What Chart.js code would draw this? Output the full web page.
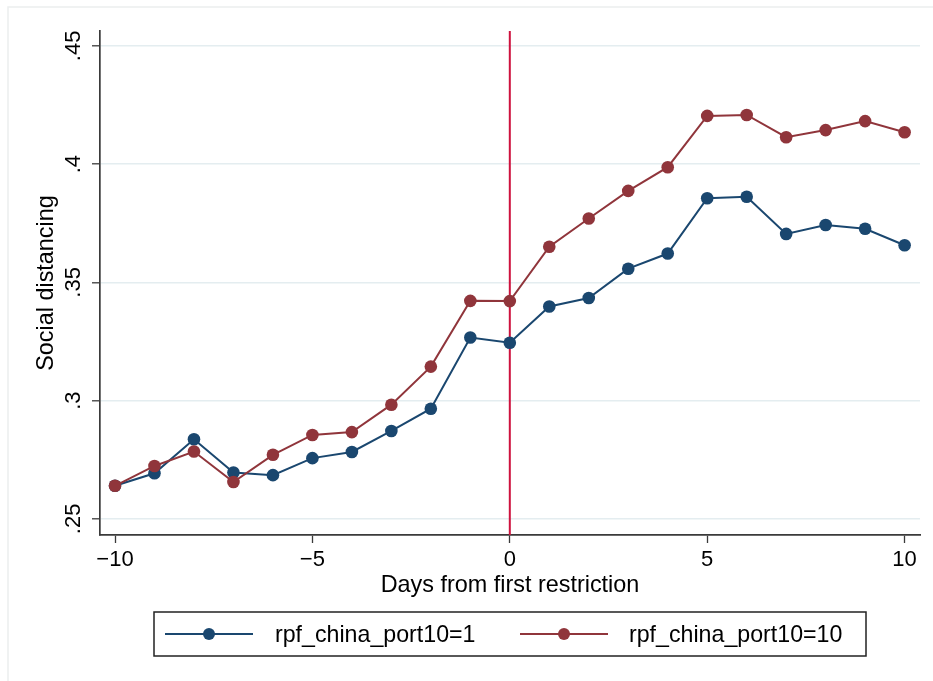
<!DOCTYPE html>
<html>
<head>
<meta charset="utf-8">
<script src="https://cdn.jsdelivr.net/npm/chart.js@4.4.1/dist/chart.umd.min.js"></script>
<style>
  html, body { margin: 0; padding: 0; background: #ffffff; }
  #wrap { width: 933px; height: 681px; position: relative; }
  canvas { display: block; }
</style>
</head>
<body>
<div id="wrap"><canvas id="c" width="933" height="681"></canvas></div>
<script>
// ---- data ----
const days = [-10, -9, -8, -7, -6, -5, -4, -3, -2, -1, 0, 1, 2, 3, 4, 5, 6, 7, 8, 9, 10];
const port1 = [0.2640, 0.2693, 0.2837, 0.2696, 0.2685, 0.2757, 0.2783, 0.2872, 0.2966, 0.3267, 0.3245,
               0.3398, 0.3434, 0.3558, 0.3622, 0.3856, 0.3862, 0.3705, 0.3743, 0.3727, 0.3657];
const port10 = [0.2640, 0.2724, 0.2785, 0.2656, 0.2771, 0.2855, 0.2867, 0.2983, 0.3144, 0.3422, 0.3421,
                0.3651, 0.3770, 0.3887, 0.3987, 0.4204, 0.4208, 0.4114, 0.4144, 0.4182, 0.4135];
const seriesNames = ['rpf_china_port10=1', 'rpf_china_port10=10'];
const xTickValues = [-10, -5, 0, 5, 10];
const xTickLabels = ['\u221210', '\u22125', '0', '5', '10'];
const yTickValues = [0.25, 0.30, 0.35, 0.40, 0.45];
const yTickLabels = ['.25', '.3', '.35', '.4', '.45'];
const restrictionDay = 0;
const xTitle = 'Days from first restriction';
const yTitle = 'Social distancing';

// ---- styles ----
const BLUE = '#1a476f';
const RED = '#90353b';
const LINE_RED = '#ce123e';
const AXIS = '#3a3a3a';
const GRID = '#e4edf0';
const FONT = "'Liberation Sans', Arial, sans-serif";

const toPts = arr => arr.map((v, i) => ({ x: days[i], y: v }));

const frameAndLine = {
  id: 'frameAndLine',
  beforeDraw(chart) {
    const ctx = chart.ctx;
    ctx.save();
    ctx.fillStyle = '#ffffff';
    ctx.fillRect(0, 0, chart.width, chart.height);
    ctx.strokeStyle = '#ebeeee';
    ctx.lineWidth = 1.5;
    ctx.beginPath();
    ctx.moveTo(8, chart.height);
    ctx.lineTo(8, 7);
    ctx.lineTo(chart.width, 7);
    ctx.stroke();
    ctx.restore();
  },
  beforeDatasetsDraw(chart) {
    const ctx = chart.ctx;
    const xs = chart.scales.x;
    const a = chart.chartArea;
    const px = xs.getPixelForValue(restrictionDay);
    ctx.save();
    ctx.strokeStyle = LINE_RED;
    ctx.lineWidth = 2;
    ctx.beginPath();
    ctx.moveTo(px, a.top);
    ctx.lineTo(px, a.bottom);
    ctx.stroke();
    ctx.restore();
  },
  afterDraw(chart) {
    // legend
    const ctx = chart.ctx;
    ctx.save();
    ctx.strokeStyle = '#222222';
    ctx.lineWidth = 1.5;
    ctx.strokeRect(154, 612, 712, 44);
    const items = [
      { color: BLUE, x0: 165, text: seriesNames[0], tx: 275 },
      { color: RED, x0: 520, text: seriesNames[1], tx: 629 }
    ];
    items.forEach(it => {
      ctx.strokeStyle = it.color;
      ctx.lineWidth = 2;
      ctx.beginPath();
      ctx.moveTo(it.x0, 634);
      ctx.lineTo(it.x0 + 88, 634);
      ctx.stroke();
      ctx.fillStyle = it.color;
      ctx.beginPath();
      ctx.arc(it.x0 + 44, 634, 6, 0, Math.PI * 2);
      ctx.fill();
      ctx.fillStyle = '#000000';
      ctx.font = '23.2px ' + FONT;
      ctx.textAlign = 'left';
      ctx.textBaseline = 'alphabetic';
      ctx.fillText(it.text, it.tx, 641.5);
    });
    ctx.restore();
  }
};

new Chart(document.getElementById('c'), {
  type: 'line',
  data: {
    datasets: [
      {
        label: seriesNames[0],
        data: toPts(port1),
        borderColor: BLUE,
        backgroundColor: BLUE,
        borderWidth: 2,
        pointRadius: 6.3,
        pointBorderWidth: 0,
        pointBackgroundColor: BLUE,
        tension: 0,
        order: 1
      },
      {
        label: seriesNames[1],
        data: toPts(port10),
        borderColor: RED,
        backgroundColor: RED,
        borderWidth: 2,
        pointRadius: 6.3,
        pointBorderWidth: 0,
        pointBackgroundColor: RED,
        tension: 0,
        order: 0
      }
    ]
  },
  options: {
    responsive: false,
    animation: false,
    devicePixelRatio: 1,
    layout: { padding: { top: 31, right: 13, left: 0, bottom: 0 } },
    plugins: {
      legend: { display: false },
      tooltip: { enabled: false }
    },
    scales: {
      x: {
        type: 'linear',
        min: -10.38,
        max: 10.39,
        afterFit: s => { s.height = 146; },
        afterBuildTicks: s => { s.ticks = xTickValues.map(v => ({ value: v })); },
        grid: {
          drawOnChartArea: false,
          drawTicks: true,
          tickLength: 8,
          tickColor: AXIS,
          tickWidth: 1.3
        },
        border: { display: true, color: AXIS, width: 1.7 },
        ticks: {
          autoSkip: false,
          maxRotation: 0,
          minRotation: 0,
          padding: 3.5,
          color: '#000000',
          font: { family: FONT, size: 22 },
          callback: (v) => xTickLabels[xTickValues.indexOf(v)]
        },
        title: {
          display: true,
          text: xTitle,
          color: '#000000',
          font: { family: FONT, size: 23.4 },
          padding: { top: 0, bottom: 81 }
        }
      },
      y: {
        type: 'linear',
        min: 0.2432,
        max: 0.4563,
        afterFit: s => { s.width = 100; },
        afterBuildTicks: s => { s.ticks = yTickValues.map(v => ({ value: v })); },
        grid: {
          color: GRID,
          lineWidth: 1.6,
          drawTicks: true,
          tickLength: 8,
          tickColor: AXIS,
          tickWidth: 1.3
        },
        border: { display: true, color: AXIS, width: 1.7 },
        ticks: {
          autoSkip: false,
          minRotation: 90,
          maxRotation: 90,
          crossAlign: 'center',
          padding: 3,
          color: '#000000',
          font: { family: FONT, size: 22 },
          callback: (v) => yTickLabels[yTickValues.indexOf(v)]
        },
        title: {
          display: true,
          text: yTitle,
          color: '#000000',
          font: { family: FONT, size: 23.4 },
          padding: { top: 33, bottom: 0 }
        }
      }
    }
  },
  plugins: [frameAndLine]
});
</script>
</body>
</html>
